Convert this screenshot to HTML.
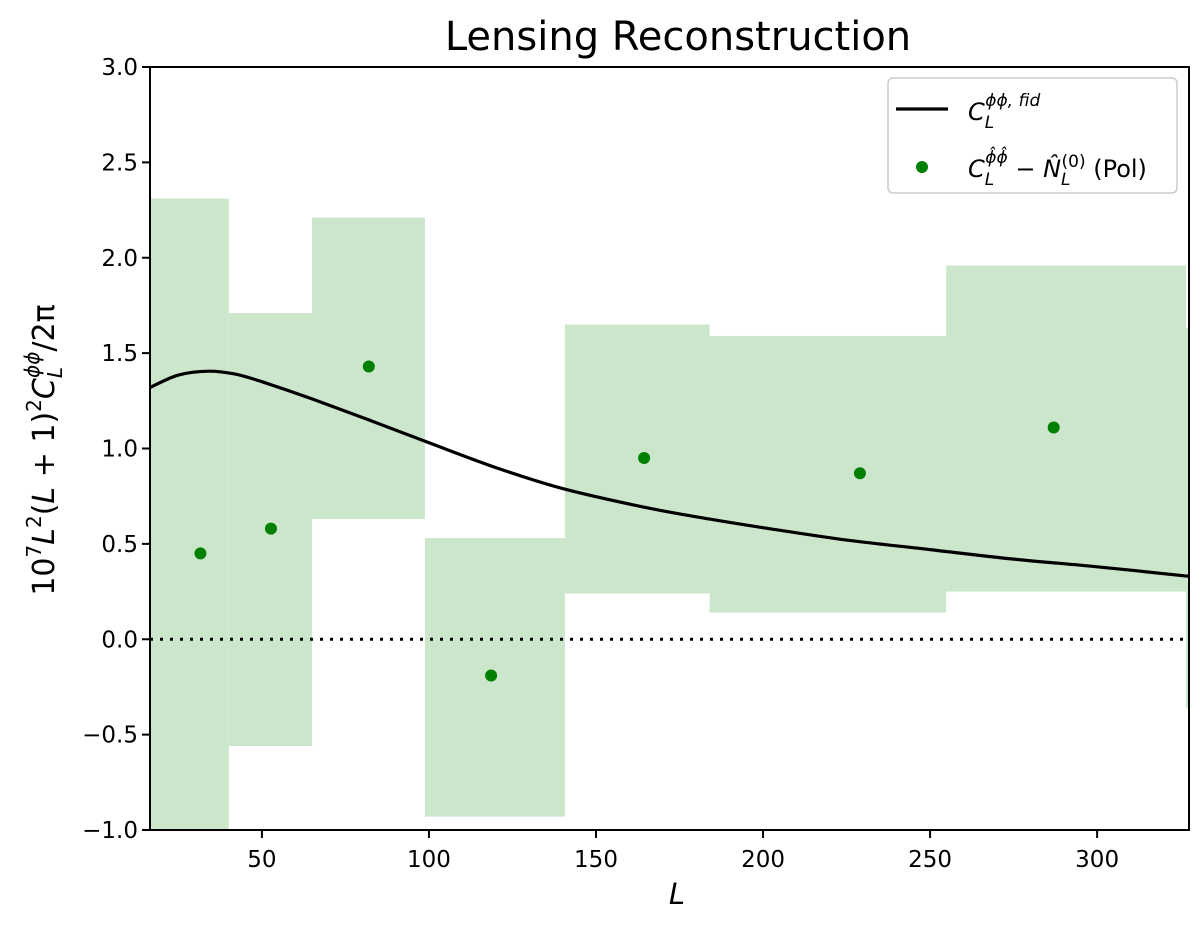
<!DOCTYPE html>
<html><head><meta charset="utf-8"><style>
body{margin:0;background:#fff}
svg text{font-family:"DejaVu Sans","Liberation Sans",sans-serif}
</style></head><body>
<svg id="chart" width="1200" height="924" viewBox="0 0 1200 924">
<text x="678" y="50" font-size="40" text-anchor="middle">Lensing Reconstruction</text>
<g id="bands"></g>
<line id="zero" stroke="#000" stroke-width="3" stroke-dasharray="3,7"/>
<path id="curve" fill="none" stroke="#000" stroke-width="3.2"/>
<g id="points"></g>
<rect x="150" y="67" width="1039" height="763" fill="none" stroke="#000" stroke-width="2"/>
<g id="xticks"></g>
<g id="yticks"></g>
<text x="677" y="904" font-size="29" font-style="italic" text-anchor="middle">L</text>
<text transform="translate(54,450) rotate(-90)" font-size="30" text-anchor="middle">10<tspan dy="-13" font-size="20">7</tspan><tspan dy="13" font-style="italic">L</tspan><tspan dy="-13" font-size="20">2</tspan><tspan dy="13">(</tspan><tspan font-style="italic">L</tspan> + 1)<tspan dy="-13" font-size="20">2</tspan><tspan dy="13" font-style="italic">C</tspan><tspan dy="8" font-size="20" font-style="italic">L</tspan><tspan dy="-23" dx="-11" font-size="20" font-style="italic">ϕϕ</tspan><tspan dy="15">/2π</tspan></text>
<g>
<rect x="888" y="78" width="289" height="115" rx="5" fill="#fff" stroke="#ccc" stroke-width="1.5"/>
<line x1="896" y1="109" x2="948" y2="109" stroke="#000" stroke-width="3.2"/>
<text x="968" y="120" font-size="24" font-style="italic">C<tspan dy="8" font-size="17">L</tspan><tspan dx="-9" dy="-22" font-size="17">ϕϕ, fid</tspan></text>
<circle cx="922" cy="167" r="6" fill="#008000"/>
<text x="968" y="177" font-size="24"><tspan font-style="italic">C</tspan><tspan dy="8" font-size="17" font-style="italic">L</tspan><tspan dx="-9" dy="-22" font-size="17" font-style="italic">ϕ̂ϕ̂</tspan><tspan dy="14"> − </tspan><tspan font-style="italic">N̂</tspan><tspan dy="8" font-size="17" font-style="italic">L</tspan><tspan dx="-9" dy="-18" font-size="17">(0)</tspan><tspan dy="10">  (Pol)</tspan></text>
</g>
</svg>
<script>
const binLo=[16.5,40.1,65,98.8,140.7,184,254.8,326.6];
const binHi=[40.1,65,98.8,140.7,184,254.8,326.6,327.5];
const bandTop=[2.31,1.71,2.21,0.53,1.65,1.59,1.96,1.63];
const bandBot=[-1.05,-0.56,0.63,-0.93,0.24,0.14,0.25,-0.36];
const ptL=[31.6,52.7,82,118.6,164.4,229,287];
const ptV=[0.45,0.58,1.43,-0.19,0.95,0.87,1.11];
const curveL=[16.5,25,34,42,50,65,82,100,120,140,165,184,200,225,250,275,300,327.5];
const curveV=[1.32,1.385,1.405,1.39,1.35,1.26,1.15,1.03,0.90,0.79,0.69,0.63,0.585,0.52,0.47,0.42,0.38,0.33];
const xTicks=[50,100,150,200,250,300];
const yTicks=[-1.0,-0.5,0.0,0.5,1.0,1.5,2.0,2.5,3.0];
const X0=150,X1=1189,LMIN=16.5,LMAX=327.5,Y0=830,Y1=67,VMIN=-1,VMAX=3;
const sx=L=>X0+(L-LMIN)/(LMAX-LMIN)*(X1-X0);
const sy=v=>Y0-(v-VMIN)/(VMAX-VMIN)*(Y0-Y1);
const NS='http://www.w3.org/2000/svg';
function mk(t,a,p){const e=document.createElementNS(NS,t);for(const k in a)e.setAttribute(k,a[k]);p.appendChild(e);return e;}
const bands=document.getElementById('bands');
binLo.forEach((lo,i)=>{
 const t=Math.min(bandTop[i],VMAX),b=Math.max(bandBot[i],VMIN);
 const r=mk('rect',{x:sx(lo),y:sy(t),width:sx(binHi[i])-sx(lo),height:sy(b)-sy(t),fill:'#cce6cc'},bands);
 
 
});
const z=document.getElementById('zero');
z.setAttribute('x1',X0);z.setAttribute('x2',X1);z.setAttribute('y1',sy(0));z.setAttribute('y2',sy(0));
const P=curveL.map((L,i)=>[sx(L),sy(curveV[i])]);
let d='M'+P[0][0].toFixed(1)+','+P[0][1].toFixed(1);
for(let i=0;i<P.length-1;i++){
 const p0=P[Math.max(i-1,0)],p1=P[i],p2=P[i+1],p3=P[Math.min(i+2,P.length-1)];
 const c1=[p1[0]+(p2[0]-p0[0])/6,p1[1]+(p2[1]-p0[1])/6];
 const c2=[p2[0]-(p3[0]-p1[0])/6,p2[1]-(p3[1]-p1[1])/6];
 d+='C'+c1.map(v=>v.toFixed(1)).join(',')+' '+c2.map(v=>v.toFixed(1)).join(',')+' '+p2.map(v=>v.toFixed(1)).join(',');
}
document.getElementById('curve').setAttribute('d',d);
const pts=document.getElementById('points');
ptL.forEach((L,i)=>{
 const c=mk('circle',{cx:sx(L),cy:sy(ptV[i]),r:6,fill:'#008000'},pts);
 
 
});
const xg=document.getElementById('xticks');
xTicks.forEach(v=>{
 const l=mk('line',{x1:sx(v),x2:sx(v),y1:Y0,y2:Y0+8,stroke:'#000','stroke-width':2},xg);
 
 
 const t=mk('text',{x:sx(v),y:Y0+37,'font-size':23,'text-anchor':'middle'},xg);
 t.textContent=v;
 
 
});
const yg=document.getElementById('yticks');
yTicks.forEach(v=>{
 const l=mk('line',{x1:X0-8,x2:X0,y1:sy(v),y2:sy(v),stroke:'#000','stroke-width':2},yg);
 
 
 const t=mk('text',{x:X0-12,y:sy(v)+8,'font-size':23,'text-anchor':'end'},yg);
 t.textContent=(v<0?'\u2212':'')+Math.abs(v).toFixed(1);
 
 
});
</script>
</body></html>
